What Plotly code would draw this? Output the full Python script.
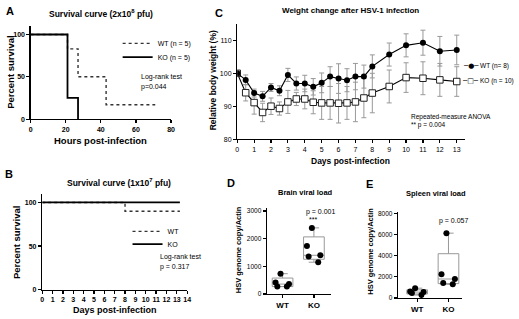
import plotly.graph_objects as go

W, H = 519, 319
FONT = "Liberation Sans, Arial, sans-serif"
GREY = "#999999"

# ---------------- data ----------------
# A: survival, 2x10^8 pfu (hours)
a_hours_wt = [0, 21, 27, 43, 71]
a_surv_wt = [100, 83, 50, 17, 17]
a_hours_ko = [0, 21, 27]
a_surv_ko = [100, 25, 0]

# B: survival, 1x10^7 pfu (days)
b_days_wt = [0, 8, 13.3]
b_surv_wt = [100, 90, 90]
b_days_ko = [0, 13.3]
b_surv_ko = [100, 100]

# C: weight change
c_days = [0, 0.5, 1, 1.5, 2, 2.5, 3, 3.5, 4, 4.5, 5, 5.5, 6, 6.5, 7, 7.5, 8,
          9, 10, 11, 12, 13]
c_wt = [100, 98, 94, 93, 95.7, 94.7, 99.5, 96.9, 96.9, 95.9, 97.1, 99, 98.4,
        97.9, 99, 99, 102.1, 105.7, 108.5, 109.3, 106.7, 107.1]
c_wt_sd = [0.5, 1.5, 1.2, 1.5, 1.2, 1.5, 2, 2, 2.5, 2.5, 3, 3, 4.5, 3.5, 4,
           3.5, 3.5, 3.5, 3.5, 3.8, 4.5, 4.5]
c_ko = [100, 94.1, 91.1, 88.1, 90, 89.3, 91.3, 92.2, 92.2, 91.2, 91, 91, 90.9,
        91, 91.3, 92.5, 94, 96, 98.7, 98.5, 98, 97.5]
c_ko_sd = [0.5, 2.5, 3.5, 2.8, 2.5, 2, 3.5, 2, 3, 3.5, 5, 5, 6, 5, 6, 6, 6,
           5, 4.5, 5, 5, 4.5]

# D: brain viral load
d_wt = [735, 360, 270, 270, 420]
d_ko = [2390, 1740, 1400, 1360, 1150]
# E: spleen viral load
e_wt = [930, 560, 620, 280, 480]
e_ko = [6150, 2250, 1800, 1430, 1300]

groups = ["WT", "KO"]


def xd(x0, x1):
    return [x0 / W, x1 / W]


def yd(ybot, ytop):
    return [1 - ybot / H, 1 - ytop / H]


def axis(domain, rng, anchor, tickvals=None, size=7, bold=False, **kw):
    d = dict(domain=domain, range=rng, anchor=anchor, showline=True,
             linewidth=1.3, linecolor="black", ticks="outside", ticklen=3,
             tickwidth=1.2, tickcolor="black", showgrid=False, zeroline=False,
             tickfont=dict(family=FONT, size=size, color="black",
                           weight="bold" if bold else "normal"),
             fixedrange=True)
    if tickvals is not None:
        d["tickvals"] = tickvals
    d.update(kw)
    return d


def legend_box(x, y):
    return dict(x=x / W, y=1 - y / H, xanchor="left", yanchor="middle",
                bgcolor="rgba(0,0,0,0)",
                font=dict(family=FONT, size=7, color="black"),
                itemwidth=30)


fig = go.Figure()

# ---- A ----
fig.add_trace(go.Scatter(x=a_hours_wt, y=a_surv_wt, mode="lines", line_shape="hv",
                         line=dict(color="#333333", width=1.4, dash="dot"),
                         name="WT (n = 5)", xaxis="x", yaxis="y", legend="legend"))
fig.add_trace(go.Scatter(x=a_hours_ko, y=a_surv_ko, mode="lines", line_shape="hv",
                         line=dict(color="black", width=1.8),
                         name="KO (n = 5)", xaxis="x", yaxis="y", legend="legend2"))
# ---- B ----
fig.add_trace(go.Scatter(x=b_days_wt, y=b_surv_wt, mode="lines", line_shape="hv",
                         line=dict(color="#333333", width=1.4, dash="dot"),
                         name="WT", xaxis="x2", yaxis="y2", legend="legend3"))
fig.add_trace(go.Scatter(x=b_days_ko, y=b_surv_ko, mode="lines", line_shape="hv",
                         line=dict(color="black", width=1.8),
                         name="KO", xaxis="x2", yaxis="y2", legend="legend4"))
# ---- C ----
fig.add_trace(go.Scatter(x=c_days, y=c_ko, mode="lines+markers",
                         error_y=dict(type="data", array=c_ko_sd, color=GREY,
                                      thickness=1, width=2.5),
                         line=dict(color="black", width=1.1),
                         marker=dict(symbol="square", size=6.5, color="white",
                                     line=dict(color="#222222", width=1)),
                         name="KO (n = 10)", xaxis="x3", yaxis="y3", showlegend=False))
fig.add_trace(go.Scatter(x=c_days, y=c_wt, mode="lines+markers",
                         error_y=dict(type="data", array=c_wt_sd, color=GREY,
                                      thickness=1, width=2.5),
                         line=dict(color="black", width=1.1),
                         marker=dict(symbol="circle", size=6, color="black"),
                         name="WT (n= 8)", xaxis="x3", yaxis="y3", showlegend=False))

# ---- D / E ----
box_style = dict(boxpoints="all", jitter=0.8, pointpos=0, width=0.66,
                 quartilemethod="exclusive", whiskerwidth=0.5,
                 fillcolor="rgba(0,0,0,0)", line=dict(color=GREY, width=1),
                 marker=dict(color="black", size=6), showlegend=False)
for vals, g, xa, ya in [(d_wt, "WT", "x4", "y4"), (d_ko, "KO", "x4", "y4"),
                        (e_wt, "WT", "x5", "y5"), (e_ko, "KO", "x5", "y5")]:
    fig.add_trace(go.Box(y=vals, x=[g] * len(vals), name=g, xaxis=xa, yaxis=ya,
                         **box_style))

layout = dict(
    width=W, height=H, margin=dict(l=0, r=0, t=0, b=0),
    paper_bgcolor="white", plot_bgcolor="white",
    font=dict(family=FONT, color="black"),
    xaxis=axis(xd(29, 171), [0, 80], "y", [0, 20, 40, 60, 80], bold=True),
    yaxis=axis(yd(119, 24.4), [0, 110], "x", [0, 50, 100], bold=True),
    xaxis2=axis(xd(40.7, 187.3), [0, 14], "y2", list(range(15)), bold=True),
    yaxis2=axis(yd(292.3, 194.8), [0, 110], "x2", [0, 50, 100], bold=True),
    xaxis3=axis(xd(238, 468.6), [0, 13.5], "y3", list(range(14))),
    yaxis3=axis(yd(139.3, 22.3), [80, 115], "x3", [80, 90, 100, 110]),
    xaxis4=axis(xd(268, 333), [-0.5, 1.55], "y4", None, size=8, bold=True,
                type="category", categoryorder="array", categoryarray=groups),
    yaxis4=axis(yd(296.7, 209.5), [0, 3100], "x4", [0, 1000, 2000, 3000], size=6.5),
    xaxis5=axis(xd(400.7, 465), [-0.61, 1.42], "y5", None, size=8, bold=True,
                type="category", categoryorder="array", categoryarray=groups),
    yaxis5=axis(yd(300.7, 213.4), [0, 8150], "x5", [0, 2000, 4000, 6000, 8000], size=6.5),
    legend=legend_box(117, 42),
    legend2=legend_box(117, 56),
    legend3=legend_box(127, 233),
    legend4=legend_box(127, 246),
)
fig.update_layout(**layout)


def ann(text, x, y, size, bold=False, xanchor="center", angle=0, family=FONT):
    return dict(text=("<b>%s</b>" % text) if bold else text, x=x / W, y=1 - y / H,
                xref="paper", yref="paper", showarrow=False, xanchor=xanchor,
                yanchor="middle", textangle=angle,
                font=dict(family=family, size=size, color="black"))


anns = [
    # A
    ann("A", 8, 9, 11, True),
    ann("Survival curve (2x10<sup>8</sup> pfu)", 100, 12, 8.5, True),
    ann("Percent survival", 9, 71, 9.5, True, angle=-90),
    ann("Hours post-infection", 100, 141, 9.5, True),
    ann("Log-rank test", 139, 76, 7, xanchor="left"),
    ann("p=0.044", 139, 86, 7, xanchor="left"),
    # B
    ann("B", 7, 175, 11, True),
    ann("Survival curve (1x10<sup>7</sup> pfu)", 118, 183, 8.5, True),
    ann("Percent survival", 14, 244, 9.5, True, angle=-90),
    ann("Days post-infection", 114, 313, 9, True),
    ann("Log-rank test", 158, 259, 7, xanchor="left"),
    ann("p = 0.317", 158, 269, 7, xanchor="left"),
    # C
    ann("C", 220, 11, 11, True),
    ann("Weight change after HSV-1 infection", 353, 9, 8, True),
    ann("Relative body weight (%)", 213, 80, 8.5, True, angle=-90),
    ann("Days post-infection", 353, 162, 8.5, True),
    ann("\u2500\u25cf\u2500", 474, 65, 7, family="DejaVu Sans"),
    ann("\u2500\u25a1\u2500", 474, 80, 7, family="DejaVu Sans"),
    ann("WT (n= 8)", 482, 65, 6.5, xanchor="left"),
    ann("KO (n = 10)", 482, 80, 6.5, xanchor="left"),
    ann("Repeated-measure ANOVA", 412, 117, 6.5, xanchor="left"),
    ann("** p = 0.004", 412, 125, 6.5, xanchor="left"),
    # D
    ann("D", 232, 184, 11, True),
    ann("Brain viral load", 307, 194, 7.5, True),
    ann("HSV genome copy/Actin", 239, 252, 7.5, True, angle=-90),
    ann("p = 0.001", 322, 213, 7),
    ann("***", 315, 221, 7),
    # E
    ann("E", 372, 185, 11, True),
    ann("Spleen viral load", 439, 195, 7.5, True),
    ann("HSV genome copy/Actin", 372, 253, 7.5, True, angle=-90),
    ann("p = 0.057", 457, 222, 7),
]
fig.update_layout(annotations=anns)

fig.write_html("out.html",
               config={"displayModeBar": False, "staticPlot": True},
               post_script="document.body.style.margin='0px';"
                           "document.body.style.overflow='hidden';")
